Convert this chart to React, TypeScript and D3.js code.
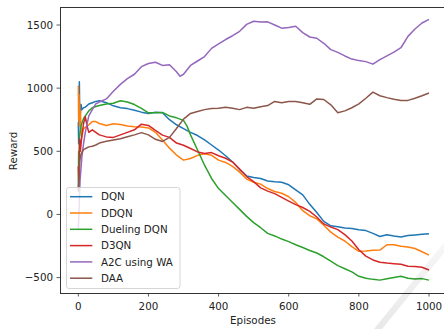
import React from "react";
import * as d3 from "d3";

// episode / reward pairs
const dqn: [number, number][] = [
  [0, 730], [1, 560], [2, 900], [3, 1050], [4, 820], [6, 800], [8, 870], [10, 830], [15, 845],
  [20, 850], [30, 875], [40, 885], [50, 895], [60, 900], [80, 885], [100, 860], [120, 845],
  [140, 838], [160, 825], [180, 810], [200, 800], [220, 810], [240, 805], [260, 750], [280, 710],
  [300, 680], [320, 650], [340, 625], [360, 590], [380, 550], [400, 510], [420, 465], [440, 415],
  [460, 355], [480, 305], [500, 292], [520, 285], [540, 265], [560, 258], [580, 255], [600, 235],
  [620, 195], [640, 155], [660, 80], [680, 15], [700, -55], [720, -90], [740, -98], [760, -108],
  [780, -112], [800, -122], [820, -128], [840, -150], [860, -175], [880, -160], [900, -170],
  [920, -178], [940, -166], [960, -162], [980, -157], [1000, -152],
];

const ddqn: [number, number][] = [
  [0, 1020], [1, 750], [2, 950], [3, 700], [4, 880], [5, 720], [6, 820], [8, 650], [10, 610],
  [12, 640], [15, 680], [20, 690], [30, 710], [40, 735], [50, 735], [60, 720], [80, 705],
  [100, 718], [120, 712], [140, 700], [160, 695], [180, 693], [200, 685], [220, 650], [240, 590],
  [260, 525], [280, 470], [300, 430], [320, 443], [340, 468], [360, 480], [380, 468], [400, 430],
  [420, 412], [440, 380], [460, 335], [480, 280], [500, 255], [520, 240], [540, 205], [560, 182],
  [580, 168], [600, 140], [620, 95], [640, 30], [660, -10], [680, -35], [700, -85], [720, -140],
  [740, -180], [760, -210], [780, -255], [800, -292], [820, -290], [840, -283], [860, -282],
  [880, -240], [900, -240], [920, -252], [940, -258], [960, -270], [980, -295], [1000, -322],
];

const duelingDqn: [number, number][] = [
  [0, 200], [1, 500], [2, 250], [3, 600], [5, 650], [8, 700], [10, 720], [15, 760], [20, 780],
  [30, 820], [40, 845], [50, 855], [60, 862], [80, 875], [100, 880], [120, 900], [140, 890],
  [160, 870], [180, 840], [200, 805], [220, 805], [240, 808], [260, 780], [280, 765], [300, 745],
  [310, 700], [320, 630], [340, 510], [360, 390], [380, 285], [400, 205], [420, 150], [440, 95],
  [460, 40], [480, -15], [500, -65], [520, -105], [540, -150], [560, -170], [580, -195],
  [600, -215], [620, -240], [640, -262], [660, -285], [680, -305], [700, -335], [720, -370],
  [740, -405], [760, -430], [780, -455], [800, -490], [820, -505], [840, -514], [860, -520],
  [880, -510], [900, -500], [920, -490], [940, -505], [960, -512], [980, -508], [1000, -520],
];

const d3qn: [number, number][] = [
  [0, 380], [2, 200], [4, 600], [6, 500], [10, 620], [15, 720], [20, 775], [25, 700], [30, 650],
  [40, 670], [50, 650], [60, 630], [80, 614], [100, 610], [120, 630], [140, 650], [160, 670],
  [180, 715], [200, 705], [220, 665], [240, 628], [260, 610], [280, 565], [300, 548], [320, 522],
  [340, 495], [360, 482], [380, 490], [400, 465], [420, 445], [440, 415], [460, 360], [480, 300],
  [500, 260], [520, 210], [540, 185], [560, 165], [580, 135], [600, 105], [620, 78], [640, 55],
  [660, 25], [680, -20], [700, -75], [720, -100], [740, -120], [760, -160], [780, -210],
  [800, -280], [820, -330], [840, -360], [860, -378], [880, -385], [900, -390], [920, -395],
  [940, -410], [960, -412], [980, -418], [1000, -440],
];

const a2c: [number, number][] = [
  [0, -120], [3, 100], [5, 270], [10, 450], [15, 560], [20, 650], [30, 780], [40, 830], [50, 875],
  [60, 890], [80, 915], [100, 975], [120, 1030], [140, 1075], [160, 1110], [180, 1170],
  [200, 1195], [220, 1205], [240, 1180], [260, 1185], [280, 1130], [290, 1094], [300, 1110],
  [320, 1180], [340, 1215], [360, 1250], [380, 1315], [400, 1350], [420, 1385], [440, 1415],
  [460, 1450], [480, 1505], [500, 1530], [520, 1523], [540, 1525], [560, 1500], [580, 1475],
  [600, 1480], [620, 1490], [640, 1440], [660, 1405], [680, 1395], [700, 1355], [720, 1305],
  [740, 1283], [760, 1255], [780, 1230], [800, 1218], [820, 1210], [840, 1190], [860, 1226],
  [880, 1255], [900, 1285], [920, 1320], [940, 1410], [960, 1468], [980, 1516], [1000, 1545],
];

const daa: [number, number][] = [
  [0, 180], [2, 300], [4, 420], [6, 460], [10, 490], [15, 515], [20, 520], [30, 535], [40, 540],
  [50, 550], [60, 565], [80, 580], [100, 590], [120, 600], [140, 615], [160, 630], [180, 648],
  [200, 630], [220, 595], [240, 578], [260, 610], [280, 680], [300, 755], [320, 800], [340, 815],
  [360, 830], [380, 838], [400, 840], [420, 848], [440, 840], [460, 830], [480, 848], [500, 840],
  [520, 852], [540, 862], [560, 895], [580, 885], [600, 895], [620, 895], [640, 885], [660, 872],
  [680, 915], [700, 910], [720, 868], [740, 805], [760, 820], [780, 845], [800, 875], [820, 920],
  [840, 968], [860, 940], [880, 925], [900, 912], [920, 903], [940, 903], [960, 920], [980, 940],
  [1000, 962],
];

const seriesNames = ["DQN", "DDQN", "Dueling DQN", "D3QN", "A2C using WA", "DAA"];
const seriesData = [dqn, ddqn, duelingDqn, d3qn, a2c, daa];
const colors = ["#1f77b4", "#ff7f0e", "#2ca02c", "#d62728", "#9467bd", "#8c564b"];

const xTicks = [0, 200, 400, 600, 800, 1000];
const yTicks = [-500, 0, 500, 1000, 1500];

const W = 444;
const H = 329;
const font = "'DejaVu Sans', sans-serif";

export default function App() {
  const left = 60, top = 7, right = 446, bottom = 293;

  const x = d3.scaleLinear().domain([0, 1000]).range([78.3, 429]);
  const y = d3.scaleLinear().domain([-500, 1500]).range([277.6, 25]);

  const line = d3
    .line<[number, number]>()
    .x((d) => x(d[0]))
    .y((d) => y(d[1]));

  return (
    <div style={{ position: "absolute", left: 0, top: 0 }}>
      <svg width={W} height={H} style={{ display: "block", background: "#fff" }}>
        <defs>
          <clipPath id="plot">
            <rect x={left} y={top} width={right - left} height={bottom - top} />
          </clipPath>
          <linearGradient id="wm" x1="0" y1="1" x2="0" y2="0">
            <stop offset="0" stopColor="#000" stopOpacity={0.09} />
            <stop offset="1" stopColor="#000" stopOpacity={0.03} />
          </linearGradient>
        </defs>

        <g clipPath="url(#plot)">
          {seriesData.map((d, i) => (
            <path
              key={seriesNames[i]}
              d={line(d) ?? ""}
              fill="none"
              stroke={colors[i]}
              strokeWidth={1.5}
              strokeLinejoin="round"
            />
          ))}
        </g>

        {/* spines */}
        <g stroke="#333" strokeWidth={1} fill="none" shapeRendering="crispEdges">
          <line x1={left + 0.5} x2={left + 0.5} y1={top} y2={bottom} />
          <line x1={left} x2={right} y1={top + 0.5} y2={top + 0.5} />
          <line x1={left} x2={right} y1={bottom + 0.5} y2={bottom + 0.5} />
        </g>

        {/* axes */}
        <g fontFamily={font} fontSize={10.3} fill="#222">
          {xTicks.map((t) => (
            <g key={t}>
              <line x1={x(t)} x2={x(t)} y1={bottom} y2={bottom + 3.5} stroke="#333" strokeWidth={0.8} />
              <text x={x(t)} y={310} textAnchor="middle">{t}</text>
            </g>
          ))}
          {yTicks.map((t) => (
            <g key={t}>
              <line x1={left - 3.5} x2={left} y1={y(t)} y2={y(t)} stroke="#333" strokeWidth={0.8} />
              <text x={53} y={y(t)} dy="0.35em" textAnchor="end">
                {t < 0 ? `\u2212${Math.abs(t)}` : t}
              </text>
            </g>
          ))}
          <text x={253} y={324} textAnchor="middle">Episodes</text>
          <text transform="translate(17,151) rotate(-90)" textAnchor="middle">Reward</text>
        </g>

        {/* legend */}
        <g fontFamily={font} fontSize={10.3} fill="#222">
          <rect
            x={66.5}
            y={187.5}
            width={113.5}
            height={101}
            rx={2.5}
            fill="#fff"
            fillOpacity={0.8}
            stroke="#ccc"
            strokeWidth={0.8}
          />
          {seriesNames.map((name, i) => {
            const cy = 196.7 + i * 16.3;
            return (
              <g key={name}>
                <line x1={70} x2={92.3} y1={cy} y2={cy} stroke={colors[i]} strokeWidth={1.5} />
                <text x={101} y={cy} dy="0.35em">{name}</text>
              </g>
            );
          })}
        </g>

        {/* faint watermark stripe */}
        <polygon points="374,329 382,329 448,248 446,240" fill="url(#wm)" />
      </svg>
    </div>
  );
}
